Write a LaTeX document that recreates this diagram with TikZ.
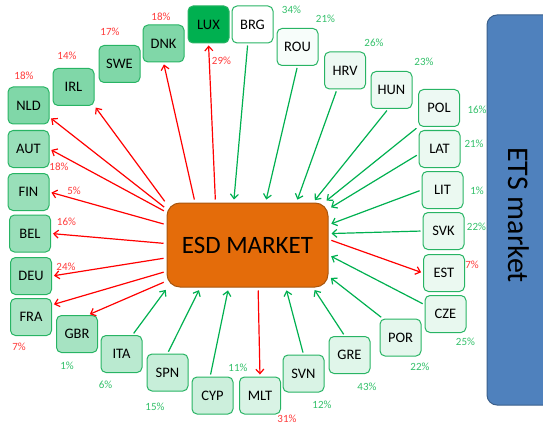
\documentclass[tikz,border=0pt]{standalone}
\usepackage{fontspec}
\setmainfont{Carlito}
\usepackage{xcolor}
\usepackage{tikz}
\usetikzlibrary{arrows.meta,positioning,calc}

\definecolor{esdfill}{HTML}{E46C0A}
\definecolor{esdline}{HTML}{A9560E}
\definecolor{etsfill}{HTML}{4F81BD}
\definecolor{etsline}{HTML}{3A5F8B}
\definecolor{boxgreen}{HTML}{00B050}
\definecolor{boxline}{HTML}{28B464}
\definecolor{outred}{HTML}{FF0000}
\definecolor{inkgreen}{HTML}{00B050}
\definecolor{pctred}{HTML}{FF3B3B}
\definecolor{pctgreen}{HTML}{33C06A}

\begin{document}
\begin{tikzpicture}[
    x=1pt, y=-1pt,
    cbox/.style={rectangle, rounded corners=5pt, draw=boxline, line width=1pt, minimum width=41pt, minimum height=37pt, inner sep=0pt, font=\fontsize{14.5}{16}\selectfont},
    esd/.style={rectangle, rounded corners=13pt, draw=esdline, line width=1pt, fill=esdfill, minimum width=161pt, minimum height=84pt, font=\fontsize{25}{28}\selectfont},
    redpct/.style={text=pctred, font=\fontsize{11}{13}\selectfont, inner sep=0pt},
    greenpct/.style={text=pctgreen, font=\fontsize{11}{13}\selectfont, inner sep=0pt},
    outarrow/.style={-{Straight Barb[length=4.5pt,width=8pt]}, outred, line width=1.2pt, shorten <=3pt, shorten >=2pt},
    inarrow/.style={-{Straight Barb[length=4.5pt,width=8pt]}, inkgreen, line width=1.2pt, shorten <=2pt, shorten >=3pt}
]
\useasboundingbox (0,0) rectangle (543,425);

% ETS market
\draw[rounded corners=10pt, fill=etsfill, draw=etsline, line width=1pt] (487,15) rectangle (560,405);
\node[rotate=-90, font=\fontsize{30}{34}\selectfont] (ets) at (519,215) {ETS market};

% ESD market
\node[esd] (esd) at (247.5,245) {ESD MARKET};

% Countries selling (outgoing)
\node[cbox, fill=boxgreen!50] (nld) at (28.5,105.5) {NLD};
\node[cbox, fill=boxgreen!50] (irl) at (73.5,87) {IRL};
\node[cbox, fill=boxgreen!50] (swe) at (119.5,64) {SWE};
\node[cbox, fill=boxgreen!50] (dnk) at (163.5,43.5) {DNK};
\node[cbox, fill=boxgreen] (lux) at (208.5,24.5) {LUX};
\node[cbox, fill=boxgreen!40] (aut) at (28.5,149) {AUT};
\node[cbox, fill=boxgreen!40] (fin) at (28.5,192) {FIN};
\node[cbox, fill=boxgreen!40] (bel) at (30,233.5) {BEL};
\node[cbox, fill=boxgreen!40] (deu) at (31,276) {DEU};
\node[cbox, fill=boxgreen!33] (fra) at (31,317) {FRA};
\node[cbox, fill=boxgreen!35] (gbr) at (77,334) {GBR};
\node[cbox, fill=boxgreen!8] (est) at (444,273) {EST};
\node[cbox, fill=boxgreen!15] (mlt) at (260,395.5) {MLT};

% Countries buying (incoming)
\node[cbox, fill=white] (brg) at (252.5,24.5) {BRG};
\node[cbox, fill=boxgreen!3] (rou) at (297.5,47) {ROU};
\node[cbox, fill=boxgreen!7] (hrv) at (345,70.5) {HRV};
\node[cbox, fill=boxgreen!7] (hun) at (391.5,90) {HUN};
\node[cbox, fill=boxgreen!7] (pol) at (439,108) {POL};
\node[cbox, fill=boxgreen!8] (lat) at (439.5,149) {LAT};
\node[cbox, fill=boxgreen!8] (lit) at (442.5,190) {LIT};
\node[cbox, fill=boxgreen!8] (svk) at (443.5,231) {SVK};
\node[cbox, fill=boxgreen!9] (cze) at (445.5,314) {CZE};
\node[cbox, fill=boxgreen!10] (por) at (400.5,337.5) {POR};
\node[cbox, fill=boxgreen!12] (gre) at (349.5,355) {GRE};
\node[cbox, fill=boxgreen!15] (svn) at (303.5,373.5) {SVN};
\node[cbox, fill=boxgreen!20] (cyp) at (212.5,395.5) {CYP};
\node[cbox, fill=boxgreen!22] (spn) at (167.5,372.5) {SPN};
\node[cbox, fill=boxgreen!27] (ita) at (121.5,354) {ITA};

% Percentages
\node[redpct] (p-nld) at (24,76) {18\%};
\node[redpct] (p-irl) at (67,56) {14\%};
\node[redpct] (p-swe) at (110,32) {17\%};
\node[redpct] (p-dnk) at (161,17) {18\%};
\node[redpct] (p-lux) at (221.5,61) {29\%};
\node[redpct] (p-aut) at (59,167) {18\%};
\node[redpct] (p-fin) at (74,191) {5\%};
\node[redpct] (p-bel) at (66.5,222) {16\%};
\node[redpct] (p-deu) at (66,267) {24\%};
\node[redpct] (p-fra) at (19,347) {7\%};
\node[redpct] (p-est) at (472,265) {7\%};
\node[redpct] (p-mlt) at (287,418.5) {31\%};
\node[greenpct] (p-brg) at (291.5,9.5) {34\%};
\node[greenpct] (p-rou) at (325.5,19) {21\%};
\node[greenpct] (p-hrv) at (374,43) {26\%};
\node[greenpct] (p-hun) at (424,62) {23\%};
\node[greenpct] (p-pol) at (477,110) {16\%};
\node[greenpct] (p-lat) at (474,144) {21\%};
\node[greenpct] (p-lit) at (477,191) {1\%};
\node[greenpct] (p-svk) at (476.5,227) {22\%};
\node[greenpct] (p-cze) at (465.5,342) {25\%};
\node[greenpct] (p-por) at (420,367) {22\%};
\node[greenpct] (p-gre) at (367,387) {43\%};
\node[greenpct] (p-svn) at (322,405) {12\%};
\node[greenpct] (p-cyp) at (238,368) {11\%};
\node[greenpct] (p-spn) at (155,407) {15\%};
\node[greenpct] (p-ita) at (105.5,385) {6\%};
\node[greenpct] (p-gbr) at (67,366) {1\%};

% Outgoing arrows
\draw[outarrow] (esd.156) -- (nld.-29);
\draw[outarrow] (esd.153) -- (irl.south east);
\draw[outarrow] (esd.141) -- (dnk.south);
\draw[outarrow] (esd.127.5) -- (lux.south);
\draw[outarrow] (esd.158) -- (aut.east);
\draw[outarrow] (esd.166) -- (fin.east);
\draw[outarrow] (esd.179) -- (bel.east);
\draw[outarrow] (esd.189) -- (deu.east);
\draw[outarrow] (esd.198) -- (fra.30);
\draw[outarrow] (esd.204) -- (gbr.60);
\draw[outarrow] (esd.4) -- (est.west);
\draw[outarrow] (esd.284) -- (mlt.north);

% Incoming arrows
\draw[inarrow] (brg.256) -- (esd.108);
\draw[inarrow] (rou.south) -- (esd.67);
\draw[inarrow] (hrv.247) -- (esd.41);
\draw[inarrow] (hun.260) -- (esd.33);
\draw[inarrow] (pol.south west) -- (esd.29);
\draw[inarrow] (lat.194) -- (esd.24);
\draw[inarrow] (lit.west) -- (esd.14);
\draw[inarrow] (svk.west) -- (esd.8);
\draw[inarrow] (cze.156) -- (esd.353);
\draw[inarrow] (por.133) -- (esd.339);
\draw[inarrow] (gre.104) -- (esd.327);
\draw[inarrow] (svn.north) -- (esd.312);
\draw[inarrow] (cyp.97) -- (esd.246);
\draw[inarrow] (spn.north) -- (esd.222);
\draw[inarrow] (ita.60) -- (esd.208);

\end{tikzpicture}
\end{document}
